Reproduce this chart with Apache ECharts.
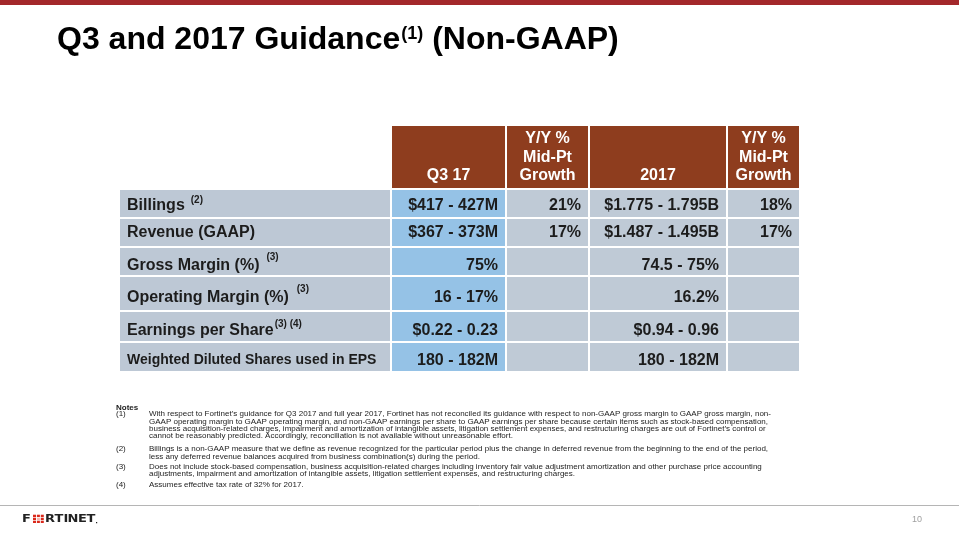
<!DOCTYPE html>
<html>
<head>
<meta charset="utf-8">
<script src="https://cdn.jsdelivr.net/npm/echarts@6/dist/echarts.min.js"></script>
<style>
html,body{margin:0;padding:0;background:#fff;}
#chart{width:959px;height:540px;}
</style>
</head>
<body>
<div id="chart"></div>
<script>
// ---------- data ----------
const titleMain = 'Q3 and 2017 Guidance';
const titleNote = '(1)';
const titleTail = ' (Non-GAAP)';

const columnHeaders = ['', 'Q3 17', 'Y/Y %\nMid-Pt\nGrowth', '2017', 'Y/Y %\nMid-Pt\nGrowth'];
const rowLabels = ['Billings', 'Revenue (GAAP)', 'Gross Margin (%)', 'Operating Margin (%)', 'Earnings per Share', 'Weighted Diluted Shares used in EPS'];
const rowLabelNotes = ['(2)', '', '(3)', '(3)', '(3) (4)', ''];
const q3Guidance = ['$417 - 427M', '$367 - 373M', '75%', '16 - 17%', '$0.22 - 0.23', '180 - 182M'];
const q3Growth = ['21%', '17%', '', '', '', ''];
const fy2017Guidance = ['$1.775 - 1.795B', '$1.487 - 1.495B', '74.5 - 75%', '16.2%', '$0.94 - 0.96', '180 - 182M'];
const fy2017Growth = ['18%', '17%', '', '', '', ''];

const notesHeading = 'Notes';
const noteNumbers = ['(1)', '(2)', '(3)', '(4)'];
const noteLines = [
  ['With respect to Fortinet\u2019s guidance for Q3 2017 and full year 2017, Fortinet has not reconciled its guidance with respect to non-GAAP gross margin to GAAP gross margin, non-',
   'GAAP operating margin to GAAP operating margin, and non-GAAP earnings per share to GAAP earnings per share because certain items such as stock-based compensation,',
   'business acquisition-related charges, impairment and amortization of intangible assets, litigation settlement expenses, and restructuring charges are out of Fortinet\u2019s control or',
   'cannot be reasonably predicted. Accordingly, reconciliation is not available without unreasonable effort.'],
  ['Billings is a non-GAAP measure that we define as revenue recognized for the particular period plus the change in deferred revenue from the beginning to the end of the period,',
   'less any deferred revenue balances acquired from business combination(s) during the period.'],
  ['Does not include stock-based compensation, business acquisition-related charges including inventory fair value adjustment amortization and other purchase price accounting',
   'adjustments, impairment and amortization of intangible assets, litigation settlement expenses, and restructuring charges.'],
  ['Assumes effective tax rate of 32% for 2017.']
];
const pageNumber = '10';

// ---------- layout ----------
const FONT = '"Liberation Sans", Arial, Helvetica, sans-serif';
const colWidths = [272, 115, 83, 138, 73];
const rowHeights = [64, 29, 29, 29, 35, 31, 30];
const rowTextShift = [2, 0.5, 4, 4, 4.5, 3.5];
const supRaise = [5, 0, 8, 8, 7, 0];
const supGap = [6, 0, 7, 8, 1, 0];
const noteTops = [414, 449, 466.5, 485];

const colEdges = [0]; colWidths.forEach(w => colEdges.push(colEdges[colEdges.length - 1] + w));
const rowEdges = [0]; rowHeights.forEach(h => rowEdges.push(rowEdges[rowEdges.length - 1] + h));
const tableW = colEdges[colEdges.length - 1];
const tableH = rowEdges[rowEdges.length - 1];

const mctx = document.createElement('canvas').getContext('2d');
function textW(t, font) { mctx.font = font; return mctx.measureText(t).width; }

const COLORS = {header: '#8E3D1E', label: '#BDC8D5', q3: '#95C2E6', cell: '#BFCAD6', text: '#1c1c1c'};

const cells = [];
for (let r = 0; r < rowHeights.length; r++) {
  for (let c = 0; c < colWidths.length; c++) cells.push([c, r]);
}

function bodyValue(c, i) {
  if (c === 1) return q3Guidance[i];
  if (c === 2) return q3Growth[i];
  if (c === 3) return fy2017Guidance[i];
  if (c === 4) return fy2017Growth[i];
  return '';
}

function renderCell(params, api) {
  const c = api.value(0), r = api.value(1);
  const p0 = api.coord([colEdges[c], rowEdges[r]]);
  const p1 = api.coord([colEdges[c + 1], rowEdges[r + 1]]);
  const x0 = p0[0], y0 = p0[1], x1 = p1[0], y1 = p1[1];
  const children = [];
  if (r === 0) {
    if (c === 0) return {type: 'group', children: []};
    children.push({type: 'rect', shape: {x: x0, y: y0, width: x1 - x0, height: y1 - y0},
      style: {fill: COLORS.header, stroke: '#fff', lineWidth: 2}});
    const lines = columnHeaders[c].split('\n');
    const cx = (x0 + x1) / 2;
    lines.forEach((ln, k) => {
      const fromBottom = lines.length - 1 - k;
      children.push({type: 'text', style: {text: ln, x: cx, y: y1 - 13 - fromBottom * 18.7,
        align: 'center', verticalAlign: 'middle', fill: '#fff', font: 'bold 16px ' + FONT}});
    });
    return {type: 'group', children};
  }
  const i = r - 1;
  const fill = c === 0 ? COLORS.label : (c === 1 ? COLORS.q3 : COLORS.cell);
  children.push({type: 'rect', shape: {x: x0, y: y0, width: x1 - x0, height: y1 - y0},
    style: {fill: fill, stroke: '#fff', lineWidth: 2}});
  const cy = (y0 + y1) / 2 + rowTextShift[i];
  if (c === 0) {
    const size = i === 5 ? 14 : 16;
    const f = 'bold ' + size + 'px ' + FONT;
    children.push({type: 'text', style: {text: rowLabels[i], x: x0 + 8, y: cy, align: 'left',
      verticalAlign: 'middle', fill: COLORS.text, font: f}});
    if (rowLabelNotes[i]) {
      const w = textW(rowLabels[i], f);
      children.push({type: 'text', style: {text: rowLabelNotes[i], x: x0 + 8 + w + supGap[i], y: cy - supRaise[i],
        align: 'left', verticalAlign: 'middle', fill: COLORS.text, font: 'bold 10px ' + FONT}});
    }
  } else {
    const v = bodyValue(c, i);
    if (v) children.push({type: 'text', style: {text: v, x: x1 - 8, y: cy, align: 'right',
      verticalAlign: 'middle', fill: COLORS.text, font: 'bold 16px ' + FONT}});
  }
  return {type: 'group', children};
}

// ---------- graphics (title, notes, footer) ----------
const graphics = [];
graphics.push({type: 'rect', shape: {x: 0, y: 0, width: 959, height: 5}, style: {fill: '#A3282B'}});
const titleFont = 'bold 32px ' + FONT;
const tW = textW(titleMain, titleFont);
const supFont = 'bold 18px ' + FONT;
const sW = textW(titleNote, supFont);
graphics.push({type: 'text', x: 57, y: 40, style: {text: titleMain, font: titleFont, fill: '#000', verticalAlign: 'middle'}});
graphics.push({type: 'text', x: 57 + tW + 1, y: 34, style: {text: titleNote, font: supFont, fill: '#000', verticalAlign: 'middle'}});
graphics.push({type: 'text', x: 57 + tW + 1 + sW, y: 40, style: {text: titleTail, font: titleFont, fill: '#000', verticalAlign: 'middle'}});

const noteFont = '8px ' + FONT;
graphics.push({type: 'text', x: 116, y: 407.5, style: {text: notesHeading, font: 'bold 8px ' + FONT, fill: '#1c1c1c', verticalAlign: 'middle'}});
noteLines.forEach((lines, n) => {
  graphics.push({type: 'text', x: 116, y: noteTops[n], style: {text: noteNumbers[n], font: noteFont, fill: '#1c1c1c', verticalAlign: 'middle'}});
  lines.forEach((ln, k) => {
    graphics.push({type: 'text', x: 149, y: noteTops[n] + k * 7.4, style: {text: ln, font: noteFont, fill: '#1c1c1c', verticalAlign: 'middle'}});
  });
});

graphics.push({type: 'line', shape: {x1: 0, y1: 505.5, x2: 959, y2: 505.5}, style: {stroke: '#B5B5B5', lineWidth: 1}});
// logo
const logoFont = 'bold 10px "DejaVu Sans", ' + FONT;
function logoLetter(ch, x) {
  return {type: 'text', x: x, y: 519, scaleX: 1.3, scaleY: 1, originX: x, originY: 519,
    style: {text: ch, x: 0, y: 0, font: logoFont, fill: '#222', verticalAlign: 'middle'}};
}
graphics.push({type: 'text', x: 22, y: 519, scaleX: 1.3, style: {text: 'F', font: logoFont, fill: '#222', verticalAlign: 'middle'}});
const sq = 2.3, gap = 0.7;
for (let a = 0; a < 3; a++) {
  for (let b = 0; b < 3; b++) {
    graphics.push({type: 'rect', shape: {x: 33 + b * (sq + gap) * 1.3, y: 514.7 + a * (sq + gap), width: sq * 1.3, height: sq},
      style: {fill: a === 1 && b === 1 ? '#F2B7B0' : '#DA291C'}});
  }
}
const rest = ['R', 'T', 'I', 'N', 'E', 'T'];
const restX = [45, 54.5, 63.5, 67.5, 78, 86.5];
rest.forEach((ch, k) => graphics.push({type: 'text', x: restX[k], y: 519, scaleX: 1.3,
  style: {text: ch, font: logoFont, fill: '#222', verticalAlign: 'middle'}}));
graphics.push({type: 'rect', shape: {x: 96, y: 522, width: 1.2, height: 1.2}, style: {fill: '#222'}});
graphics.push({type: 'text', x: 922, y: 520, style: {text: pageNumber, font: '9px ' + FONT, fill: '#A0A0A0', align: 'right', verticalAlign: 'middle'}});

const chart = echarts.init(document.getElementById('chart'), null, {renderer: 'canvas'});
chart.setOption({
  animation: false,
  backgroundColor: '#fff',
  grid: {left: 119, top: 125, width: tableW, height: tableH, containLabel: false},
  xAxis: {type: 'value', min: 0, max: tableW, show: false},
  yAxis: {type: 'value', min: 0, max: tableH, inverse: true, show: false},
  series: [{type: 'custom', renderItem: renderCell, data: cells, clip: false, silent: true}],
  graphic: graphics
});
</script>
</body>
</html>
